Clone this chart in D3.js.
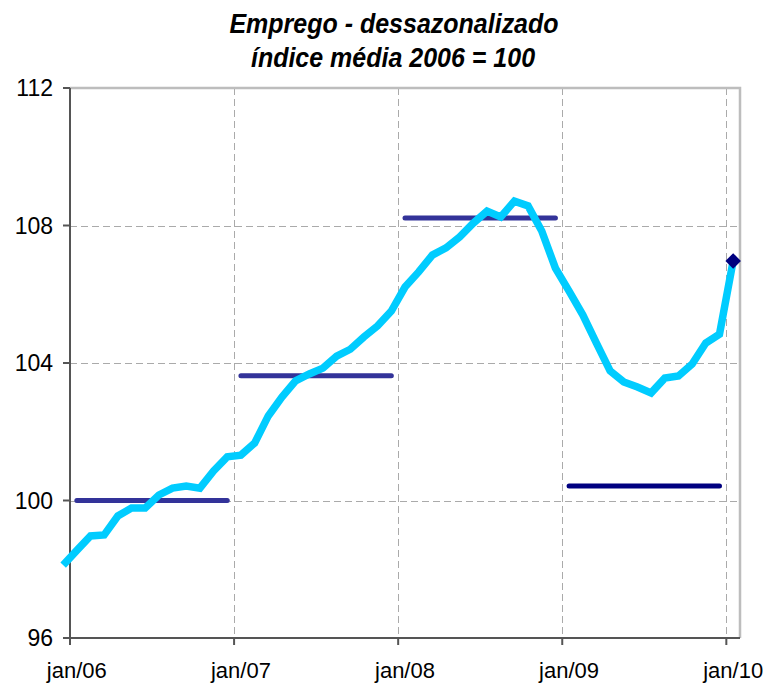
<!DOCTYPE html>
<html>
<head>
<meta charset="utf-8">
<script src="https://cdn.jsdelivr.net/npm/d3@7"></script>
<style>
  html, body { margin: 0; padding: 0; background: #fff; }
  svg { display: block; font-family: "Liberation Sans", Arial, sans-serif; }
</style>
</head>
<body>
<svg id="chart" width="765" height="683"></svg>
<script>
/* Emprego dessazonalizado, índice média 2006 = 100 */
// month index: -1 = dez/05 ... 48 = jan/10
var monthIdx = d3.range(-1, 49);
var emprego = [
  98.12, 98.55, 98.97, 99.0, 99.55, 99.78, 99.78, 100.16, 100.36, 100.42, 100.36, 100.86, 101.27,
  101.32, 101.67, 102.46, 103.01, 103.48, 103.68, 103.85, 104.2, 104.4, 104.76, 105.08, 105.51,
  106.21, 106.65, 107.14, 107.35, 107.67, 108.07, 108.42, 108.25, 108.71, 108.57, 107.84, 106.76,
  106.09, 105.4, 104.58, 103.77, 103.45, 103.3, 103.13, 103.56, 103.62, 103.97, 104.58, 104.84, 106.97
];
var anos = ["2006", "2007", "2008", "2009"];
var mediaAnual = [100.0, 103.63, 108.22, 100.42];
var corMedia = ["#333399", "#333399", "#333399", "#000080"];
var tickMonths = [0, 12, 24, 36, 48];
var tickLabels = ["jan/06", "jan/07", "jan/08", "jan/09", "jan/10"];
var yTicks = [96, 100, 104, 108, 112];

(function () {
  var left = 70, right = 740, top = 88, bottom = 638;
  var svg = d3.select("#chart");

  var x = d3.scaleLinear().domain([0, 49]).range([left, right]);
  var y = d3.scaleLinear().domain([96, 112]).range([bottom, top]);
  function xm(m) { return x(m + 0.5); } // points sit mid-category

  // title (font looks a bit tall / condensed in the original)
  var title = svg.append("g")
    .attr("font-weight", "bold")
    .attr("font-style", "italic")
    .attr("font-size", 25)
    .attr("text-anchor", "middle")
    .attr("fill", "#000");
  title.append("text")
    .attr("transform", "translate(394,33) scale(1,1.14)")
    .text("Emprego - dessazonalizado");
  title.append("text")
    .attr("transform", "translate(393,67) scale(1,1.14)")
    .text("índice média 2006 = 100");

  // grid
  var grid = svg.append("g")
    .attr("stroke", "#aaa")
    .attr("stroke-width", 1)
    .attr("stroke-dasharray", "7,4");
  grid.selectAll("line.h")
    .data(yTicks.filter(function (v) { return v > 96 && v < 112; }))
    .join("line")
    .attr("class", "h")
    .attr("x1", left).attr("x2", right)
    .attr("y1", function (d) { return Math.round(y(d)) + 0.5; })
    .attr("y2", function (d) { return Math.round(y(d)) + 0.5; });
  grid.selectAll("line.v")
    .data(tickMonths.slice(1))
    .join("line")
    .attr("class", "v")
    .attr("y1", top).attr("y2", bottom)
    .attr("x1", function (d) { return Math.round(x(d)) + 0.5; })
    .attr("x2", function (d) { return Math.round(x(d)) + 0.5; });

  // plot area border (top / right)
  svg.append("path")
    .attr("d", "M" + left + "," + top + "H" + right + "V" + bottom)
    .attr("fill", "none")
    .attr("stroke", "#bdbdbd")
    .attr("stroke-width", 2.5);

  // axes
  var ax = svg.append("g").attr("stroke", "#555").attr("stroke-width", 2);
  ax.append("line").attr("x1", left).attr("x2", left).attr("y1", top).attr("y2", bottom + 1);
  ax.append("line").attr("x1", left - 1).attr("x2", right).attr("y1", bottom).attr("y2", bottom);
  ax.selectAll("line.yt").data(yTicks).join("line")
    .attr("class", "yt")
    .attr("x1", left - 7).attr("x2", left)
    .attr("y1", function (d) { return y(d); })
    .attr("y2", function (d) { return y(d); });
  ax.selectAll("line.xt").data(tickMonths).join("line")
    .attr("class", "xt")
    .attr("y1", bottom).attr("y2", bottom + 7)
    .attr("x1", function (d) { return x(d); })
    .attr("x2", function (d) { return x(d); });

  svg.append("g").selectAll("text").data(yTicks).join("text")
    .attr("x", 53)
    .attr("y", function (d) { return y(d); })
    .attr("dy", "0.36em")
    .attr("text-anchor", "end")
    .attr("font-size", 23)
    .text(function (d) { return d; });

  svg.append("g").selectAll("text").data(tickMonths).join("text")
    .attr("x", function (d) { return xm(d); })
    .attr("y", 678)
    .attr("text-anchor", "middle")
    .attr("font-size", 22)
    .text(function (d, i) { return tickLabels[i]; });

  // annual averages
  var avgLine = d3.line()
    .x(function (d) { return xm(d[0]); })
    .y(function (d) { return y(d[1]); });
  anos.forEach(function (a, i) {
    var pts = d3.range(12).map(function (k) { return [i * 12 + k, mediaAnual[i]]; });
    svg.append("path")
      .attr("d", avgLine(pts))
      .attr("fill", "none")
      .attr("stroke", corMedia[i])
      .attr("stroke-width", 5)
      .attr("stroke-linecap", "round");
  });

  // employment series
  var serie = monthIdx.map(function (m, i) { return [m, emprego[i]]; });
  svg.append("path")
    .attr("d", avgLine(serie))
    .attr("fill", "none")
    .attr("stroke", "#00ccff")
    .attr("stroke-width", 7.5)
    .attr("stroke-linejoin", "miter");

  // last point marker
  var last = serie[serie.length - 1];
  svg.append("path")
    .attr("d", d3.symbol().type(d3.symbolSquare).size(120)())
    .attr("transform", "translate(" + xm(last[0]) + "," + y(last[1]) + ") rotate(45)")
    .attr("fill", "#000080");
})();
</script>
</body>
</html>
